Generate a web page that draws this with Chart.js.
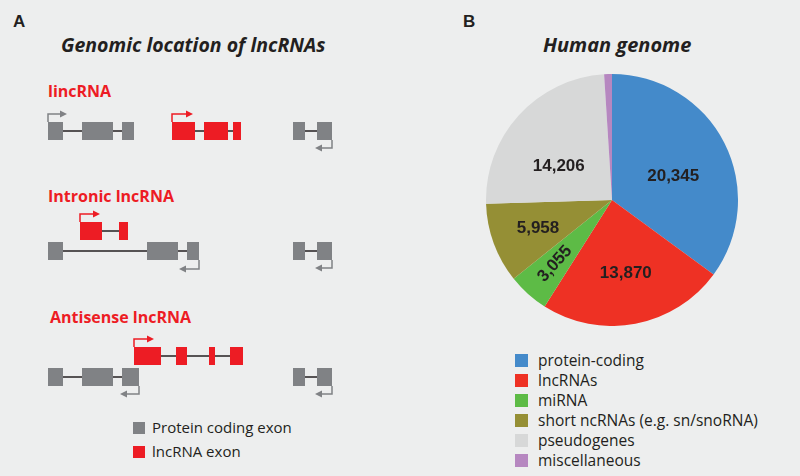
<!DOCTYPE html>
<html>
<head>
<meta charset="utf-8">
<script src="https://cdn.jsdelivr.net/npm/chart.js@4"></script>
<style>
  body { margin: 0; width: 800px; height: 476px; overflow: hidden; position: relative;
         background: #edeeee; font-family: "Open Sans", sans-serif; color: #231f20; }
  #diagram { position: absolute; left: 0; top: 0; }
  #pieBox { position: absolute; left: 486px; top: 74px; width: 252px; height: 252px; }
  #pieLegend { position: absolute; left: 515px; top: 350px; font-size: 15.5px; }
  #pieLegend div { height: 20px; line-height: 20px; white-space: nowrap; }
  #pieLegend span { display: inline-block; width: 13px; height: 13px; margin-right: 10px; vertical-align: -1px; }
</style>
</head>
<body>
<svg id="diagram" width="800" height="476"></svg>
<div id="pieBox"><canvas id="pie"></canvas></div>
<div id="pieLegend"></div>

<script>
// Panel B data
const categories = ["protein-coding", "lncRNAs", "miRNA", "short ncRNAs (e.g. sn/snoRNA)", "pseudogenes", "miscellaneous"];
const geneCounts = [20345, 13870, 3055, 5958, 14206, 580];
const sliceColors = ["#448aca", "#ee3124", "#5dbb46", "#958f35", "#d7d8d8", "#b687c0"];
const showValue = [true, true, true, true, true, false];

// Panel A legend
const exonKinds = ["Protein coding exon", "lncRNA exon"];

const GRAY = "#808285", RED = "#ed1c24", INK = "#231f20";

// ---- Panel A: gene model sketch (plain SVG) ----
const svg = document.getElementById("diagram");
let out = "";

function txt(x, y, s, style) {
  out += `<text x="${x}" y="${y}" style="${style}">${s}</text>`;
}

function gene(spans, y, color) {
  const h = 18;
  out += `<line x1="${spans[0][0]}" x2="${spans[spans.length - 1][1]}" y1="${y + h / 2}" y2="${y + h / 2}" stroke="${INK}" stroke-width="1.6"/>`;
  spans.forEach(s => {
    out += `<rect x="${s[0]}" y="${y}" width="${s[1] - s[0]}" height="${h}" fill="${color}"/>`;
  });
}

// bent arrow: start (x, y0), vertical to y1, horizontal to x2
function arrow(x, y0, y1, x2, color) {
  const dir = x2 > x ? 1 : -1;
  out += `<polyline points="${x},${y0} ${x},${y1} ${x2 - dir * 5},${y1}" fill="none" stroke="${color}" stroke-width="1.5"/>`;
  out += `<polygon points="${x2},${y1} ${x2 - dir * 7},${y1 - 3.5} ${x2 - dir * 7},${y1 + 3.5}" fill="${color}"/>`;
}

txt(13, 27, "A", "font:bold 17px 'Liberation Sans',Arial;fill:" + INK);
txt(463, 27, "B", "font:bold 17px 'Liberation Sans',Arial;fill:" + INK);
txt(61, 52, "Genomic location of lncRNAs", "font:italic bold 19.5px 'Open Sans';fill:" + INK);
txt(543, 52, "Human genome", "font:italic bold 20px 'Open Sans';fill:" + INK);

// lincRNA
txt(48, 97, "lincRNA", "font:bold 16px 'Open Sans';fill:" + RED);
gene([[48, 63], [82, 113], [122, 134]], 122, GRAY);
arrow(48, 122, 114, 67, GRAY);
gene([[172, 195], [204, 228], [233, 241]], 122, RED);
arrow(172, 122, 114, 193, RED);
gene([[293, 305], [317, 332]], 122, GRAY);
arrow(332, 140, 148, 315, GRAY);

// Intronic lncRNA
txt(48, 202, "Intronic lncRNA", "font:bold 16px 'Open Sans';fill:" + RED);
gene([[80, 102], [119, 128]], 222, RED);
arrow(80, 222, 214, 100, RED);
gene([[48, 63], [147, 178], [187, 199]], 242, GRAY);
arrow(199, 260, 269, 179, GRAY);
gene([[293, 305], [317, 332]], 242, GRAY);
arrow(332, 260, 268, 315, GRAY);

// Antisense lncRNA
txt(50, 323, "Antisense lncRNA", "font:bold 16px 'Open Sans';fill:" + RED);
gene([[134, 161], [176, 187], [209, 215], [230, 243]], 347, RED);
arrow(134, 347, 339, 154, RED);
gene([[48, 63], [82, 113], [122, 139]], 368, GRAY);
arrow(139, 386, 394, 120, GRAY);
gene([[293, 305], [317, 332]], 368, GRAY);
arrow(332, 386, 394, 315, GRAY);

// legend of panel A
exonKinds.forEach((k, i) => {
  out += `<rect x="133" y="${422 + i * 24}" width="12" height="12" fill="${i ? RED : GRAY}"/>`;
  txt(152, 433 + i * 24, k, "font:15px 'Open Sans';fill:" + INK);
});

svg.innerHTML = out;

// ---- Panel B: pie chart ----
const labelRadius = [0.52, 0.59, 0.68, 0.63, 0.5, 0];
const labelShift = [6, 0, 0, -1, -10, 0]; // degrees

const valueLabels = {
  id: "valueLabels",
  afterDatasetsDraw(chart) {
    const ctx = chart.ctx;
    const meta = chart.getDatasetMeta(0);
    meta.data.forEach((arc, i) => {
      if (!showValue[i]) return;
      const p = arc.getProps(["x", "y", "startAngle", "endAngle", "outerRadius"], true);
      const mid = (p.startAngle + p.endAngle) / 2 + labelShift[i] * Math.PI / 180;
      const r = p.outerRadius * labelRadius[i];
      const x = p.x + Math.cos(mid) * r;
      const y = p.y + Math.sin(mid) * r;
      ctx.save();
      ctx.translate(x, y);
      if (p.endAngle - p.startAngle < 0.4) ctx.rotate(mid - Math.PI);
      ctx.font = "bold 17px 'Liberation Sans', Arial";
      ctx.fillStyle = INK;
      ctx.textAlign = "center";
      ctx.textBaseline = "middle";
      ctx.fillText(geneCounts[i].toLocaleString("en-US"), 0, 0);
      ctx.restore();
    });
  }
};

new Chart(document.getElementById("pie"), {
  type: "pie",
  data: {
    labels: categories,
    datasets: [{
      data: geneCounts,
      backgroundColor: sliceColors,
      borderWidth: 0
    }]
  },
  options: {
    responsive: true,
    maintainAspectRatio: false,
    animation: false,
    layout: { padding: 0 },
    plugins: { legend: { display: false }, tooltip: { enabled: false } }
  },
  plugins: [valueLabels]
});

// pie legend
document.getElementById("pieLegend").innerHTML = categories
  .map((c, i) => `<div><span style="background:${sliceColors[i]}"></span>${c}</div>`)
  .join("");
</script>
</body>
</html>
